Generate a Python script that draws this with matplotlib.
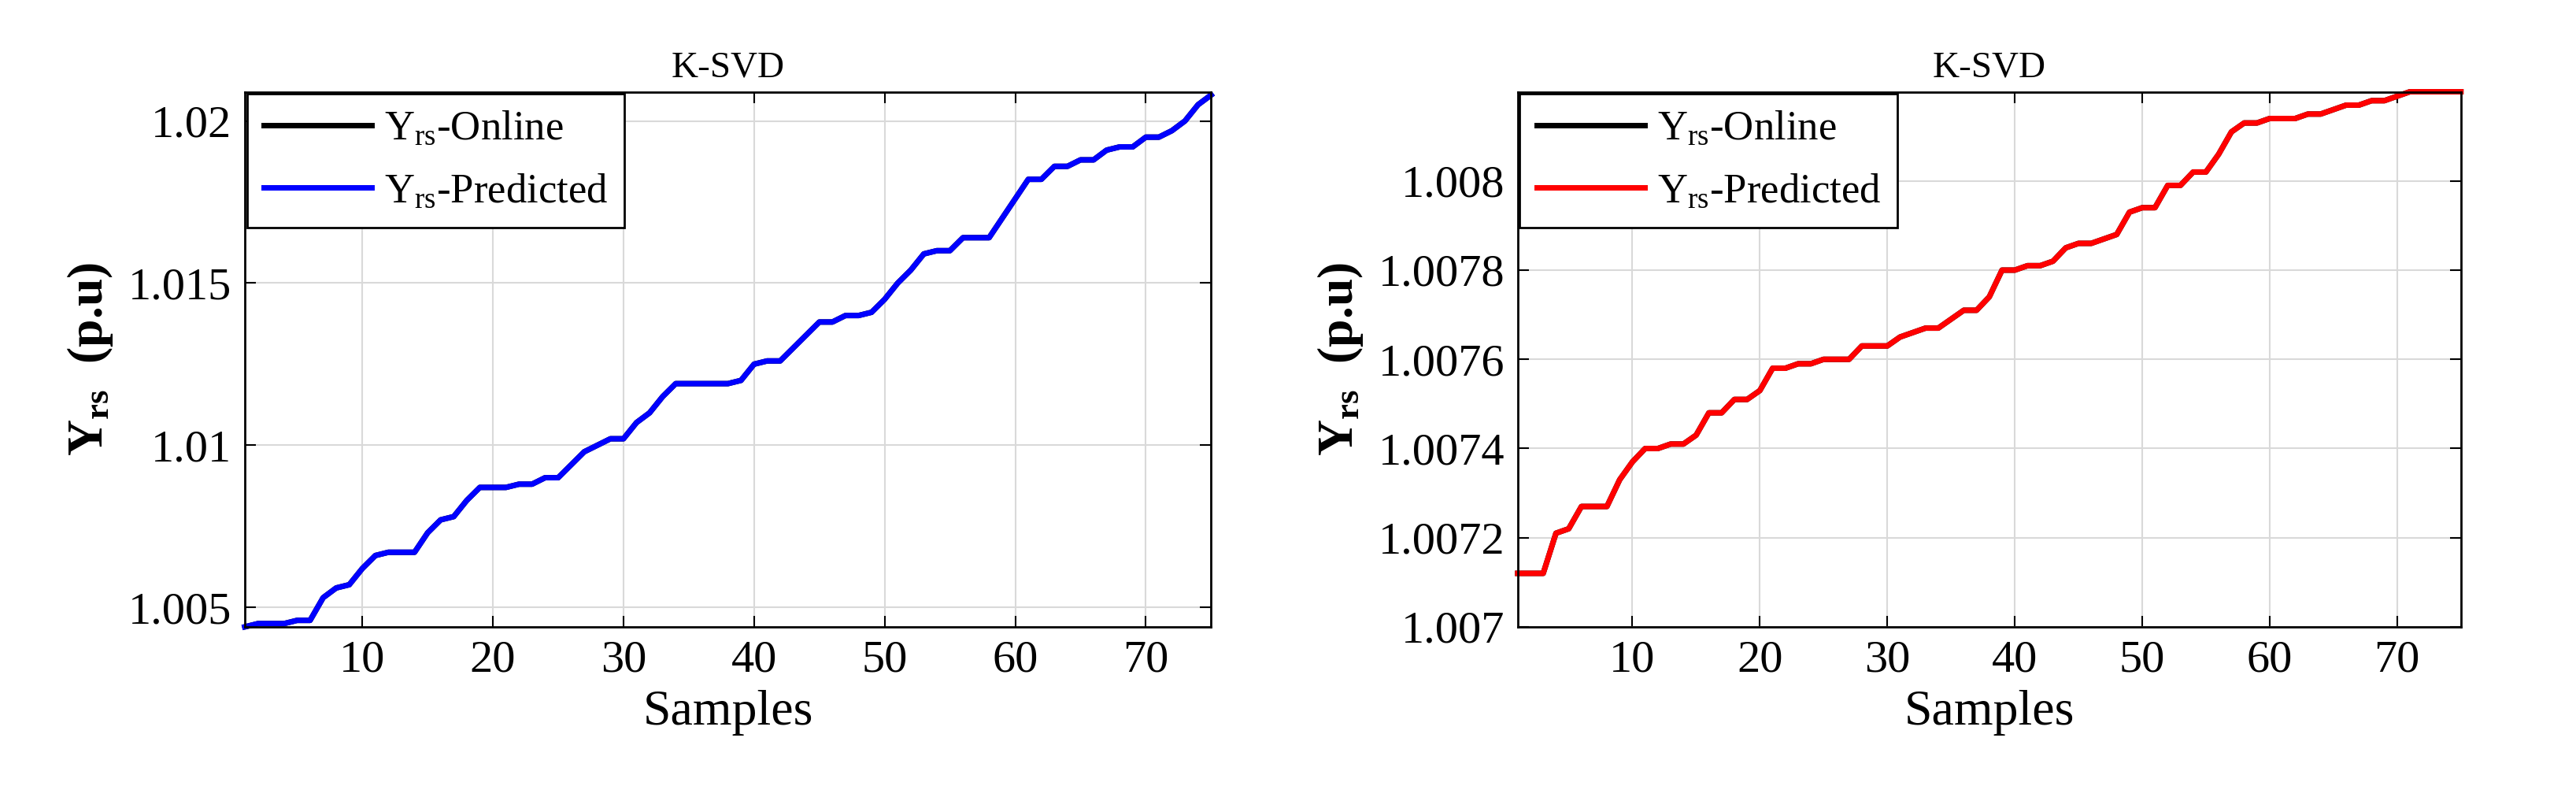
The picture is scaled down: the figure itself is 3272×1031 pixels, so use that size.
import matplotlib
matplotlib.use("Agg")
import matplotlib.pyplot as plt
import numpy as np

plt.rcParams['font.family'] = ['Liberation Serif', 'DejaVu Serif']
plt.rcParams['mathtext.fontset'] = 'custom'
plt.rcParams['mathtext.rm'] = 'Liberation Serif'
plt.rcParams['mathtext.it'] = 'Liberation Serif'
plt.rcParams['mathtext.bf'] = 'Liberation Serif:bold'

samples = list(range(1, 76))
left_vals = [1.0044,1.0045,1.0045,1.0045,1.0046,1.0046,1.0053,1.0056,1.0057,1.0062,
             1.0066,1.0067,1.0067,1.0067,1.0073,1.0077,1.0078,1.0083,1.0087,1.0087,
             1.0087,1.0088,1.0088,1.0090,1.0090,1.0094,1.0098,1.0100,1.0102,1.0102,
             1.0107,1.0110,1.0115,1.0119,1.0119,1.0119,1.0119,1.0119,1.0120,1.0125,
             1.0126,1.0126,1.0130,1.0134,1.0138,1.0138,1.0140,1.0140,1.0141,1.0145,
             1.0150,1.0154,1.0159,1.0160,1.0160,1.0164,1.0164,1.0164,1.0170,1.0176,
             1.0182,1.0182,1.0186,1.0186,1.0188,1.0188,1.0191,1.0192,1.0192,1.0195,
             1.0195,1.0197,1.0200,1.0205,1.0208]
right_vals = [1.00712,1.00712,1.00712,1.00721,1.00722,1.00727,1.00727,1.00727,1.00733,1.00737,
              1.00740,1.00740,1.00741,1.00741,1.00743,1.00748,1.00748,1.00751,1.00751,1.00753,
              1.00758,1.00758,1.00759,1.00759,1.00760,1.00760,1.00760,1.00763,1.00763,1.00763,
              1.00765,1.00766,1.00767,1.00767,1.00769,1.00771,1.00771,1.00774,1.00780,1.00780,
              1.00781,1.00781,1.00782,1.00785,1.00786,1.00786,1.00787,1.00788,1.00793,1.00794,
              1.00794,1.00799,1.00799,1.00802,1.00802,1.00806,1.00811,1.00813,1.00813,1.00814,
              1.00814,1.00814,1.00815,1.00815,1.00816,1.00817,1.00817,1.00818,1.00818,1.00819,
              1.00820,1.00820,1.00820,1.00820,1.00820]
xticks = [10, 20, 30, 40, 50, 60, 70]
left_yticks = [1.005, 1.01, 1.015, 1.02]
left_ylabels = ['1.005', '1.01', '1.015', '1.02']
right_yticks = [1.007, 1.0072, 1.0074, 1.0076, 1.0078, 1.008]
right_ylabels = ['1.007', '1.0072', '1.0074', '1.0076', '1.0078', '1.008']

fig = plt.figure(figsize=(32.73, 10.31), dpi=100)
axL = fig.add_axes([0.095, 0.228, 0.375, 0.659])
axR = fig.add_axes([0.589, 0.228, 0.366, 0.659])

for ax, vals, col, yt, yl, ylim in [
        (axL, left_vals, 'blue', left_yticks, left_ylabels, (1.0044, 1.0209)),
        (axR, right_vals, 'red', right_yticks, right_ylabels, (1.007, 1.0082))]:
    ax.plot(samples, vals, color='black', lw=5, label=r'$\mathrm{Y_{rs}}$-Online', clip_on=False)
    ax.plot(samples, vals, color=col, lw=5, label=r'$\mathrm{Y_{rs}}$-Predicted', clip_on=False)
    ax.set_xlim(1, 75)
    ax.set_ylim(*ylim)
    ax.set_xticks(xticks)
    ax.set_yticks(yt)
    ax.set_yticklabels(yl)
    ax.grid(True, color='#d9d9d9', lw=1.5)
    ax.tick_params(direction='in', length=10, width=1.5, labelsize=42, top=True, right=True, pad=12)
    for s in ax.spines.values():
        s.set_linewidth(2)
    ax.set_title('K-SVD', fontsize=34, pad=14)
    ax.set_xlabel('Samples', fontsize=46, labelpad=8)
    ax.set_ylabel(r'$\mathbf{Y_{rs}}$  (p.u)', fontsize=46, fontweight='bold', labelpad=12)
    leg = ax.legend(loc='upper left', fontsize=38, frameon=True, fancybox=False,
                    edgecolor='black', borderaxespad=0.05, handlelength=2.6,
                    handletextpad=0.3, labelspacing=0.6, framealpha=1)
    leg.get_frame().set_linewidth(2)

fig.savefig('out.png', dpi=100, facecolor='white')
